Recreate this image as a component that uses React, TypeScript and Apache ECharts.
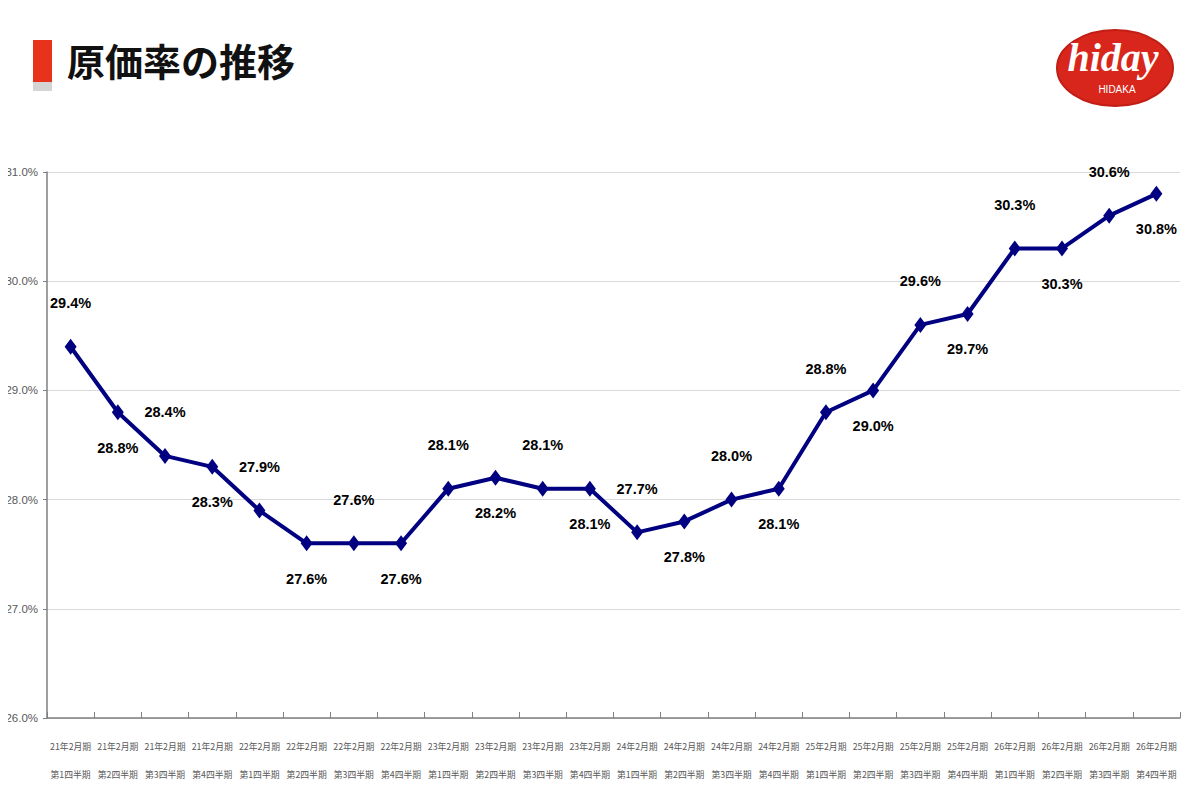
import React, { useEffect, useRef } from "react";
import * as echarts from "echarts";

const yearLabels = ["21年2月期","21年2月期","21年2月期","21年2月期","22年2月期","22年2月期","22年2月期","22年2月期","23年2月期","23年2月期","23年2月期","23年2月期","24年2月期","24年2月期","24年2月期","24年2月期","25年2月期","25年2月期","25年2月期","25年2月期","26年2月期","26年2月期","26年2月期","26年2月期"];
const quarterLabels = ["第1四半期","第2四半期","第3四半期","第4四半期","第1四半期","第2四半期","第3四半期","第4四半期","第1四半期","第2四半期","第3四半期","第4四半期","第1四半期","第2四半期","第3四半期","第4四半期","第1四半期","第2四半期","第3四半期","第4四半期","第1四半期","第2四半期","第3四半期","第4四半期"];
const costRates = [29.4, 28.8, 28.4, 28.3, 27.9, 27.6, 27.6, 27.6, 28.1, 28.2, 28.1, 28.1, 27.7, 27.8, 28.0, 28.1, 28.8, 29.0, 29.6, 29.7, 30.3, 30.3, 30.6, 30.8];
const yTicks = { min: 26, max: 31, interval: 1 };

export default function App() {
  const ref = useRef<HTMLDivElement>(null);
  useEffect(() => {
    const chart = echarts.init(ref.current!, null, { renderer: "svg" });
    const categories = yearLabels.map((y, i) => y + "\n" + quarterLabels[i]);
    const data = costRates.map((v, i) => ({
      value: v,
      label: {
        show: true,
        position: i % 2 === 0 ? "top" : "bottom",
        distance: i % 2 === 0 ? 28 : 20,
      },
    }));
    chart.setOption({
      animation: false,
      backgroundColor: "#ffffff",
      grid: { left: 47, right: 19, top: 172, bottom: 90, containLabel: false, outerBoundsMode: "none" },
      xAxis: {
        type: "category",
        data: categories,
        boundaryGap: true,
        axisLine: { lineStyle: { color: "#7f7f7f", width: 1.5 } },
        axisTick: { show: true, inside: true, length: 6, lineStyle: { color: "#7f7f7f" } },
        axisLabel: {
          interval: 0,
          color: "#595959",
          fontSize: 8.8,
          lineHeight: 28,
          fontFamily: '"Noto Sans CJK JP", sans-serif',
          margin: 14,
        },
      },
      yAxis: {
        type: "value",
        min: yTicks.min,
        max: yTicks.max,
        interval: yTicks.interval,
        axisLine: { show: true, lineStyle: { color: "#7f7f7f", width: 1.5 } },
        axisTick: { show: true, length: 4, lineStyle: { color: "#7f7f7f" } },
        splitLine: { lineStyle: { color: "#d9d9d9", width: 1 } },
        axisLabel: {
          formatter: (v: number) => v.toFixed(1) + "%",
          color: "#595959",
          fontSize: 11.5,
          fontFamily: '"Liberation Sans", sans-serif',
          margin: 9,
        },
      },
      series: [
        {
          type: "line",
          data,
          symbol: "diamond",
          symbolSize: [12, 16],
          lineStyle: { color: "#000080", width: 4 },
          itemStyle: { color: "#000080" },
          label: {
            formatter: (p: any) => p.value.toFixed(1) + "%",
            color: "#000000",
            fontSize: 14.5,
            fontWeight: "bold",
            fontFamily: '"Liberation Sans", sans-serif',
          },
        },
      ],
      graphic: [
        { type: "rect", shape: { x: 33, y: 40, width: 19, height: 42 }, style: { fill: "#e8331c" } },
        { type: "rect", shape: { x: 33, y: 82, width: 19, height: 9 }, style: { fill: "#d4d4d4" } },
        {
          type: "text",
          x: 67,
          y: 59,
          style: {
            text: "原価率の推移",
            fill: "#111111",
            fontSize: 38,
            fontWeight: "bold",
            fontFamily: '"Noto Sans CJK JP", sans-serif',
            verticalAlign: "middle",
          },
        },
        {
          type: "ellipse",
          shape: { cx: 1115, cy: 68, rx: 58, ry: 38 },
          style: { fill: "#d8261c", stroke: "#c11f16", lineWidth: 2 },
        },
        {
          type: "text",
          x: 1113,
          y: 57,
          style: {
            text: "hiday",
            fill: "#ffffff",
            fontSize: 40,
            fontStyle: "italic",
            fontWeight: "bold",
            fontFamily: '"Liberation Serif", serif',
            align: "center",
            verticalAlign: "middle",
          },
        },
        {
          type: "text",
          x: 1117,
          y: 89,
          style: {
            text: "HIDAKA",
            fill: "#ffffff",
            fontSize: 10,
            fontFamily: '"Liberation Sans", sans-serif',
            align: "center",
            verticalAlign: "middle",
          },
        },
      ],
    });
    return () => chart.dispose();
  }, []);
  return <div ref={ref} style={{ width: 1199, height: 808, margin: -8 }} />;
}
